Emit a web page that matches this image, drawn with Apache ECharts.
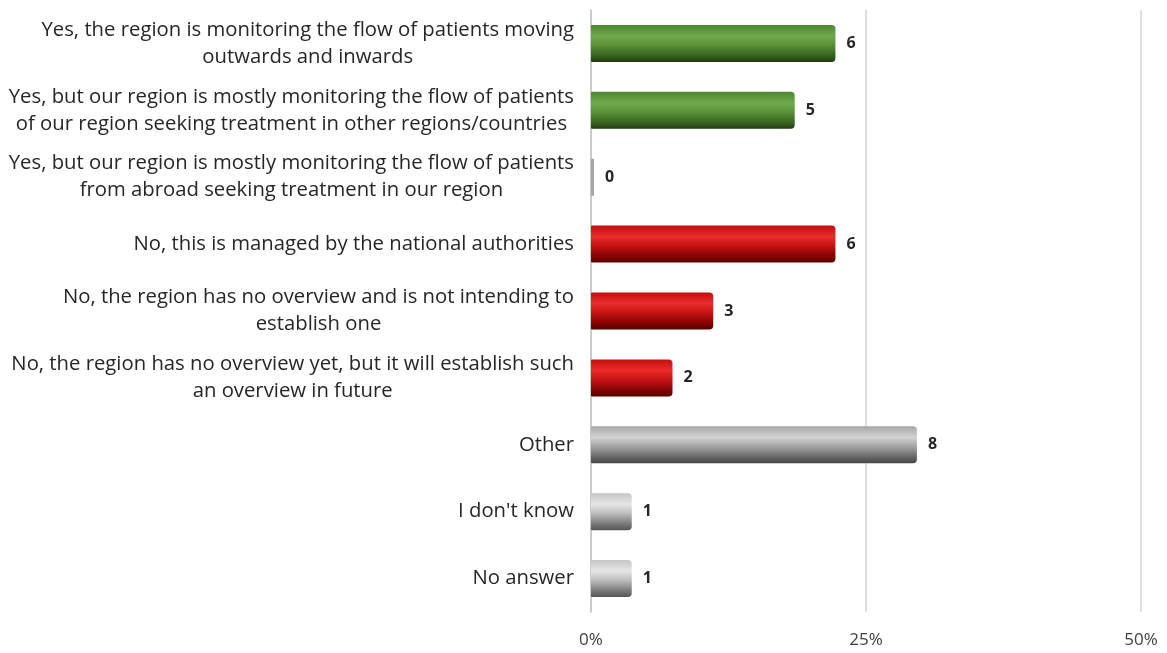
<!DOCTYPE html>
<html>
<head>
<meta charset="utf-8">
<script src="https://cdn.jsdelivr.net/npm/echarts@6/dist/echarts.min.js"></script>
<style>
  html, body { margin: 0; padding: 0; background: #ffffff; }
  #chart { width: 1167px; height: 653px; }
</style>
</head>
<body>
<div id="chart"></div>
<script>
// Survey answers (top to bottom), line breaks as they are laid out
const categories = [
  'Yes, the region is monitoring the flow of patients moving\noutwards and inwards',
  'Yes, but our region is mostly monitoring the flow of patients\nof our region seeking treatment in other regions/countries',
  'Yes, but our region is mostly monitoring the flow of patients\nfrom abroad seeking treatment in our region',
  'No, this is managed by the national authorities',
  'No, the region has no overview and is not intending to\nestablish one',
  'No, the region has no overview yet, but it will establish such\nan overview in future',
  'Other',
  "I don't know",
  'No answer'
];
// Number of regions giving each answer
const counts = [6, 5, 0, 6, 3, 2, 8, 1, 1];
// Answer group of each category (drives the bar colour)
const groups = ['yes', 'yes', 'yes', 'no', 'no', 'no', 'other', 'unsure', 'unsure'];
// Total number of responding regions (base for the percentage scale)
const respondents = 27;
// Percentage ticks shown on the horizontal axis
const percentTicks = [0, 25, 50];

// Cylinder-style shading: light band near the top, dark towards the bottom
function cylinder(stops) {
  return new echarts.graphic.LinearGradient(0, 0, 0, 1, stops.map((c, i) => ({
    offset: [0, 0.3, 0.55, 0.85, 1][i], color: c
  })));
}
const palette = {
  yes:    cylinder(['#4f8531', '#72a84d', '#5a9037', '#35611d', '#1f3b0f']),
  no:     cylinder(['#c40d0d', '#ea2c2c', '#c51212', '#800202', '#560000']),
  other:  cylinder(['#a6a6a6', '#d2d2d2', '#a3a3a3', '#636363', '#474747']),
  unsure: cylinder(['#c6c6c6', '#e6e6e6', '#bcbcbc', '#757575', '#565656']),
  // an empty bar only shows its grey edge against the axis
  empty:  '#a6a6a6'
};

const axisMax = respondents * percentTicks[percentTicks.length - 1] / 100;
const axisStep = respondents * (percentTicks[1] - percentTicks[0]) / 100;

const chart = echarts.init(document.getElementById('chart'), null, { renderer: 'canvas' });
chart.setOption({
  backgroundColor: '#ffffff',
  animation: false,
  grid: { left: 591, right: 26, top: 10, bottom: 41, containLabel: false },
  xAxis: {
    type: 'value',
    min: 0,
    max: axisMax,
    interval: axisStep,
    axisLine: { show: false },
    axisTick: { show: false },
    splitLine: { show: true, lineStyle: { color: '#d4d4d4', width: 1.5 } },
    axisLabel: {
      color: '#404040',
      fontFamily: 'Open Sans',
      fontSize: 17,
      margin: 20,
      formatter: v => Math.round(v / respondents * 100) + '%'
    }
  },
  yAxis: {
    type: 'category',
    inverse: true,
    data: categories,
    axisLine: { show: true, lineStyle: { color: '#c4c4c4', width: 1.5 } },
    axisTick: { show: false },
    axisLabel: {
      margin: 17,
      align: 'right',
      lineHeight: 27,
      formatter: v => v.split('\n').map(l => '{c|' + l + '}').join('\n'),
      rich: {
        c: { align: 'center', color: '#262626', fontFamily: 'Open Sans', fontSize: 20.3, lineHeight: 27 }
      }
    }
  },
  series: [{
    type: 'bar',
    barWidth: 37,
    barMinHeight: 3,
    data: counts.map((v, i) => ({
      value: v,
      itemStyle: {
        color: v === 0 ? palette.empty : palette[groups[i]],
        borderRadius: v === 0 ? 0 : [1, 4, 4, 1]
      }
    })),
    label: {
      show: true,
      position: 'right',
      distance: 11,
      color: '#262626',
      fontFamily: 'Open Sans',
      fontWeight: 'bold',
      fontSize: 16
    }
  }]
});
</script>
</body>
</html>
